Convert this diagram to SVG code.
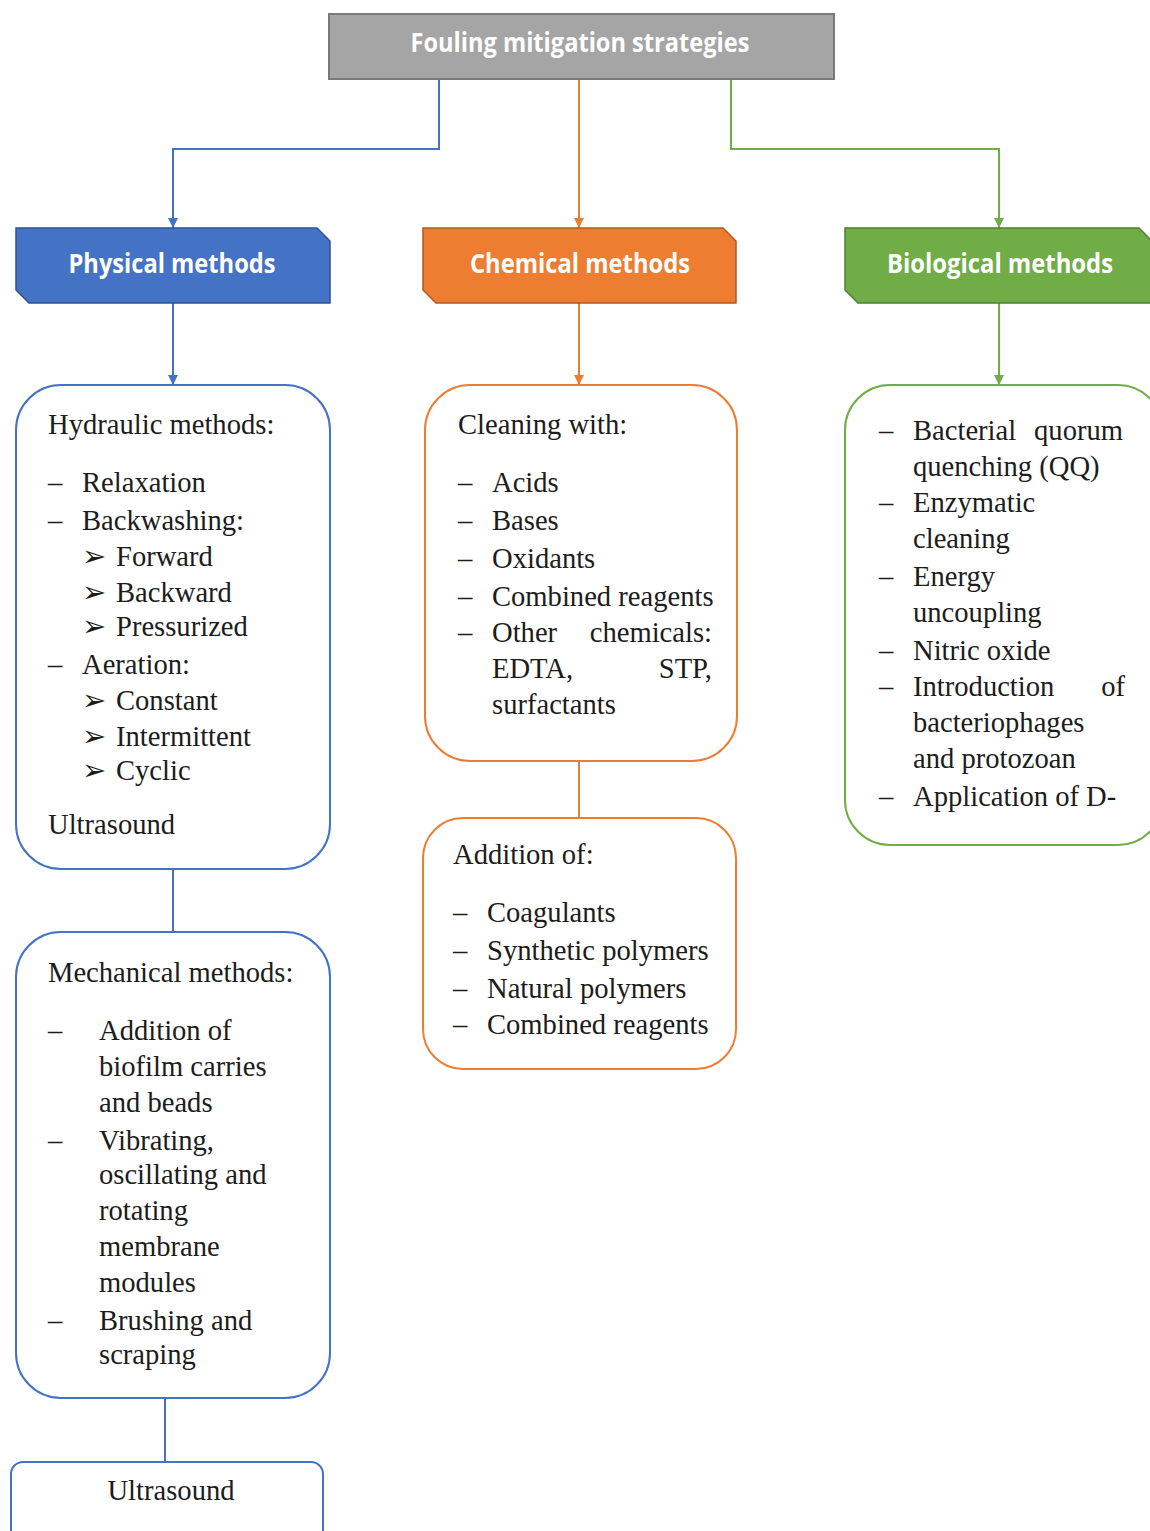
<svg xmlns="http://www.w3.org/2000/svg" width="1150" height="1531" viewBox="0 0 1150 1531">
<style>
.t{font-family:"Liberation Serif","Times New Roman",serif;font-size:28.6px;fill:#1c1c1c}
.h{font-family:"Open Sans","Noto Sans",sans-serif;font-weight:bold;font-size:26.5px;fill:#ffffff;text-anchor:middle}
.bl{stroke:#4472c4}
.or{stroke:#ed7d31}
.gr{stroke:#70ad47}
.c{fill:none;stroke-width:2}
.box{fill:#ffffff;stroke-width:2}
.r{text-anchor:end}
.m{text-anchor:middle}
</style>
<defs>
<marker id="ab" viewBox="0 0 10 10" refX="10" refY="5" markerWidth="10" markerHeight="11" orient="auto" markerUnits="userSpaceOnUse"><path d="M0,0 L10,5 L0,10 Z" fill="#4472c4"/></marker>
<marker id="ao" viewBox="0 0 10 10" refX="10" refY="5" markerWidth="10" markerHeight="11" orient="auto" markerUnits="userSpaceOnUse"><path d="M0,0 L10,5 L0,10 Z" fill="#ed7d31"/></marker>
<marker id="ag" viewBox="0 0 10 10" refX="10" refY="5" markerWidth="10" markerHeight="11" orient="auto" markerUnits="userSpaceOnUse"><path d="M0,0 L10,5 L0,10 Z" fill="#70ad47"/></marker>
</defs>
<rect width="1150" height="1531" fill="#ffffff"/>

<g id="connectors">
<path class="c bl" d="M439,79 V149 H173 V228" marker-end="url(#ab)"/>
<path class="c or" d="M579,79 V228" marker-end="url(#ao)"/>
<path class="c gr" d="M731,79 V149 H999 V228" marker-end="url(#ag)"/>
<path class="c bl" d="M173,303 V385" marker-end="url(#ab)"/>
<path class="c or" d="M579,303 V385" marker-end="url(#ao)"/>
<path class="c gr" d="M999,303 V385" marker-end="url(#ag)"/>
<path class="c bl" d="M173,869 V932"/>
<path class="c or" d="M579,761 V818"/>
<path class="c bl" d="M165,1398 V1462"/>
</g>

<g id="root">
<rect x="329" y="14" width="505" height="65" fill="#a5a5a5" stroke="#7a7a7a" stroke-width="2"/>
<text class="h" x="580" y="52" textLength="339" lengthAdjust="spacingAndGlyphs">Fouling mitigation strategies</text>
</g>

<g id="physical">
<path d="M16,228 H317 L330,241 V303 H29 L16,290 Z" fill="#4472c4" stroke="#2f528f" stroke-width="1.5"/>
<text class="h" x="172" y="273" textLength="207" lengthAdjust="spacingAndGlyphs">Physical methods</text>
</g>
<g id="chemical">
<path d="M423,228 H723 L736,241 V303 H436 L423,290 Z" fill="#ed7d31" stroke="#ae5a21" stroke-width="1.5"/>
<text class="h" x="580" y="273" textLength="220" lengthAdjust="spacingAndGlyphs">Chemical methods</text>
</g>
<g id="biological">
<path d="M845,228 H1139 L1152,241 V303 H858 L845,290 Z" fill="#70ad47" stroke="#507e32" stroke-width="1.5"/>
<text class="h" x="1000" y="273" textLength="226" lengthAdjust="spacingAndGlyphs">Biological methods</text>
</g>

<g id="hydraulic">
<rect class="box bl" x="16" y="385" width="314" height="484" rx="45" ry="45"/>
<text class="t" x="48" y="434">Hydraulic methods:</text>
<text class="t" x="48" y="492">–</text><text class="t" x="82" y="492">Relaxation</text>
<text class="t" x="48" y="530">–</text><text class="t" x="82" y="530">Backwashing:</text>
<text class="t" x="82" y="566">➢</text><text class="t" x="116" y="566">Forward</text>
<text class="t" x="82" y="602">➢</text><text class="t" x="116" y="602">Backward</text>
<text class="t" x="82" y="636">➢</text><text class="t" x="116" y="636">Pressurized</text>
<text class="t" x="48" y="674">–</text><text class="t" x="82" y="674">Aeration:</text>
<text class="t" x="82" y="710">➢</text><text class="t" x="116" y="710">Constant</text>
<text class="t" x="82" y="746">➢</text><text class="t" x="116" y="746">Intermittent</text>
<text class="t" x="82" y="780">➢</text><text class="t" x="116" y="780">Cyclic</text>
<text class="t" x="48" y="834">Ultrasound</text>
</g>

<g id="cleaning">
<rect class="box or" x="425" y="385" width="312" height="376" rx="45" ry="45"/>
<text class="t" x="458" y="434">Cleaning with:</text>
<text class="t" x="458" y="492">–</text><text class="t" x="492" y="492">Acids</text>
<text class="t" x="458" y="530">–</text><text class="t" x="492" y="530">Bases</text>
<text class="t" x="458" y="568">–</text><text class="t" x="492" y="568">Oxidants</text>
<text class="t" x="458" y="606">–</text><text class="t" x="492" y="606">Combined reagents</text>
<text class="t" x="458" y="642">–</text><text class="t" x="492" y="642">Other</text><text class="t r" x="712" y="642">chemicals:</text>
<text class="t" x="492" y="678">EDTA,</text><text class="t r" x="712" y="678">STP,</text>
<text class="t" x="492" y="714">surfactants</text>
</g>

<g id="addition">
<rect class="box or" x="423" y="818" width="313" height="251" rx="40" ry="40"/>
<text class="t" x="453" y="864">Addition of:</text>
<text class="t" x="453" y="922">–</text><text class="t" x="487" y="922">Coagulants</text>
<text class="t" x="453" y="960">–</text><text class="t" x="487" y="960">Synthetic polymers</text>
<text class="t" x="453" y="998">–</text><text class="t" x="487" y="998">Natural polymers</text>
<text class="t" x="453" y="1034">–</text><text class="t" x="487" y="1034">Combined reagents</text>
</g>

<g id="bio-list">
<rect class="box gr" x="845" y="385" width="318" height="460" rx="45" ry="45"/>
<text class="t" x="879" y="440">–</text><text class="t" x="913" y="440">Bacterial</text><text class="t r" x="1123" y="440">quorum</text>
<text class="t" x="913" y="476">quenching (QQ)</text>
<text class="t" x="879" y="512">–</text><text class="t" x="913" y="512">Enzymatic</text>
<text class="t" x="913" y="548">cleaning</text>
<text class="t" x="879" y="586">–</text><text class="t" x="913" y="586">Energy</text>
<text class="t" x="913" y="622">uncoupling</text>
<text class="t" x="879" y="660">–</text><text class="t" x="913" y="660">Nitric oxide</text>
<text class="t" x="879" y="696">–</text><text class="t" x="913" y="696">Introduction</text><text class="t r" x="1125" y="696">of</text>
<text class="t" x="913" y="732">bacteriophages</text>
<text class="t" x="913" y="768">and protozoan</text>
<text class="t" x="879" y="806">–</text><text class="t" x="913" y="806">Application of D-</text>
</g>

<g id="mechanical">
<rect class="box bl" x="16" y="932" width="314" height="466" rx="45" ry="45"/>
<text class="t" x="48" y="982">Mechanical methods:</text>
<text class="t" x="48" y="1040">–</text><text class="t" x="99" y="1040">Addition of</text>
<text class="t" x="99" y="1076">biofilm carries</text>
<text class="t" x="99" y="1112">and beads</text>
<text class="t" x="48" y="1150">–</text><text class="t" x="99" y="1150">Vibrating,</text>
<text class="t" x="99" y="1184">oscillating and</text>
<text class="t" x="99" y="1220">rotating</text>
<text class="t" x="99" y="1256">membrane</text>
<text class="t" x="99" y="1292">modules</text>
<text class="t" x="48" y="1330">–</text><text class="t" x="99" y="1330">Brushing and</text>
<text class="t" x="99" y="1364">scraping</text>
</g>

<g id="ultrasound">
<rect class="box bl" x="11" y="1462" width="312" height="90" rx="12" ry="12"/>
<text class="t m" x="171" y="1500">Ultrasound</text>
</g>
</svg>
